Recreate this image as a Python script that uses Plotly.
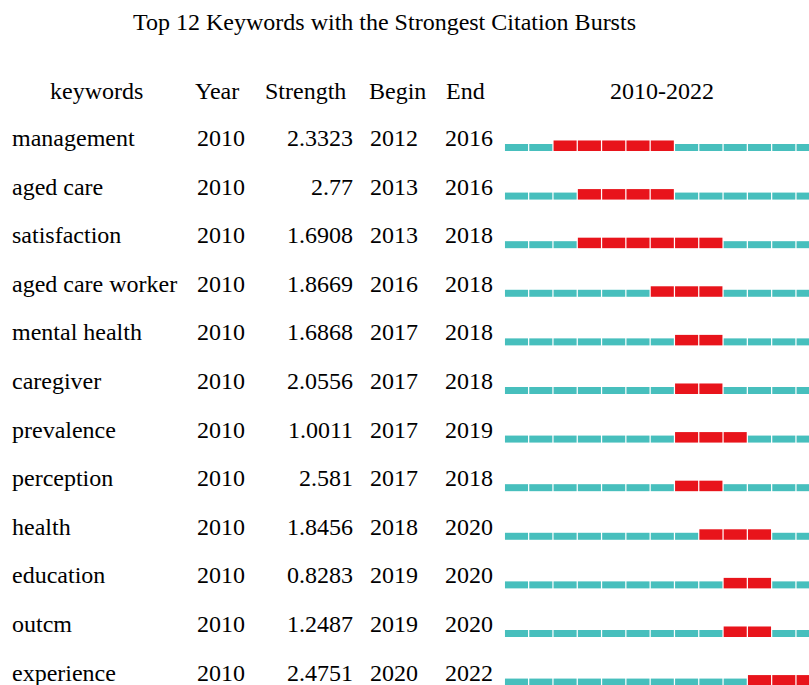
import plotly.graph_objects as go

title = "Top 12 Keywords with the Strongest Citation Bursts"
keywords = ["management", "aged care", "satisfaction", "aged care worker", "mental health",
            "caregiver", "prevalence", "perception", "health", "education", "outcm", "experience"]
years = [2010] * 12
strengths = [2.3323, 2.77, 1.6908, 1.8669, 1.6868, 2.0556, 1.0011, 2.581, 1.8456, 0.8283, 1.2487, 2.4751]
begins = [2012, 2013, 2013, 2016, 2017, 2017, 2017, 2017, 2018, 2019, 2019, 2020]
ends = [2016, 2016, 2018, 2018, 2018, 2018, 2019, 2018, 2020, 2020, 2020, 2022]
span_start, span_end = 2010, 2022
headers = ["keywords", "Year", "Strength", "Begin", "End", f"{span_start}-{span_end}"]

TEAL = "#47BFBD"
RED = "#E8141B"
FONT = "Liberation Serif"
W, H = 809, 685
FS = 24

# row geometry (in row units)
low_off = 0.267
teal_h = 0.144
red_h = 0.216

tx, ty, rx, ry = [], [], [], []
for i, (b, e) in enumerate(zip(begins, ends)):
    for yr in range(span_start, span_end + 1):
        if b <= yr <= e:
            rx.append(yr); ry.append(i)
        else:
            tx.append(yr); ty.append(i)

fig = go.Figure()
fig.add_trace(go.Bar(x=tx, y=[-teal_h] * len(tx), base=[r + low_off for r in ty],
                     width=0.95, marker=dict(color=TEAL, line=dict(width=0)), hoverinfo="skip"))
fig.add_trace(go.Bar(x=rx, y=[-red_h] * len(rx), base=[r + low_off for r in ry],
                     width=0.95, marker=dict(color=RED, line=dict(width=0)), hoverinfo="skip"))

def px(x):
    return x / W

ann = []
def add(text, x, y, xanchor, yref="y"):
    ann.append(dict(text=text, x=px(x), xref="paper", y=y, yref=yref, xanchor=xanchor,
                    yanchor="middle", showarrow=False, font=dict(family=FONT, size=FS, color="black")))

# headers
hy = -0.96
add(headers[0], 96, hy, "center")
add(headers[1], 193, hy, "left")
add(headers[2], 305, hy, "center")
add(headers[3], 367, hy, "left")
add(headers[4], 444, hy, "left")
add(headers[5], 662, hy, "center")

for i in range(len(keywords)):
    add(keywords[i], 10, i, "left")
    add(str(years[i]), 195, i, "left")
    add(str(strengths[i]), 355, i, "right")
    add(str(begins[i]), 368, i, "left")
    add(str(ends[i]), 443, i, "left")

ann.append(dict(text=title, x=px(384.5), xref="paper", y=1 - 22 / H, yref="paper",
                xanchor="center", yanchor="middle", showarrow=False,
                font=dict(family=FONT, size=FS, color="black")))

pitch_x = 24.3
x0 = span_start - 516.5 / pitch_x
x1 = x0 + W / pitch_x
pitch_y = 48.6
y_top = -138 / pitch_y
y_bot = y_top + H / pitch_y

fig.update_layout(
    width=W, height=H, margin=dict(l=0, r=0, t=0, b=0),
    paper_bgcolor="white", plot_bgcolor="white",
    barmode="overlay", showlegend=False, annotations=ann,
    xaxis=dict(range=[x0, x1], visible=False, fixedrange=True),
    yaxis=dict(range=[y_bot, y_top], visible=False, fixedrange=True),
)
fig.write_html("out.html", config={"displayModeBar": False},
               post_script="document.body.style.margin='0';document.body.style.overflow='hidden';")
